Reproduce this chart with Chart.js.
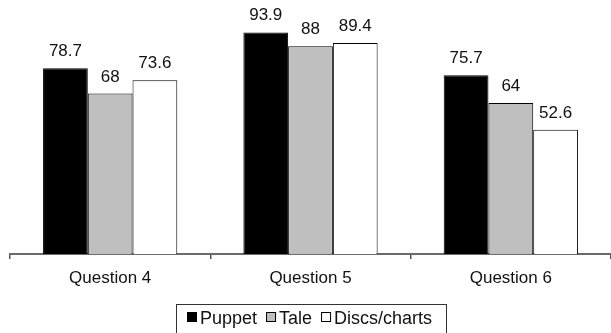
<!DOCTYPE html>
<html>
<head>
<meta charset="utf-8">
<script src="https://cdn.jsdelivr.net/npm/chart.js@4.4.0/dist/chart.umd.min.js"></script>
<style>
  html, body { margin: 0; padding: 0; background: #fff; overflow: hidden; }
  #wrap { position: relative; width: 611px; height: 333px; }
</style>
</head>
<body>
<div id="wrap"><canvas id="c" width="611" height="333"></canvas></div>
<script>
// Percentages per question for each teaching aid
const categories = ['Question 4', 'Question 5', 'Question 6'];
const seriesNames = ['Puppet', 'Tale', 'Discs/charts'];
const puppet = [78.7, 93.9, 75.7];
const tale = [68, 88, 64];
const discsCharts = [73.6, 89.4, 52.6];

const FONT = '"Liberation Sans", Arial, sans-serif';
const fills = ['#000000', '#bfbfbf', '#ffffff'];

// Numbers printed above every bar
const valueLabels = {
  id: 'valueLabels',
  afterDatasetsDraw(chart) {
    const ctx = chart.ctx;
    ctx.save();
    ctx.font = '17px ' + FONT;
    ctx.fillStyle = '#111';
    ctx.textAlign = 'center';
    ctx.textBaseline = 'alphabetic';
    chart.data.datasets.forEach((ds, i) => {
      chart.getDatasetMeta(i).data.forEach((bar, j) => {
        ctx.fillText(String(ds.data[j]), bar.x, bar.y - 12);
      });
    });
    ctx.restore();
  }
};

// Boxed legend along the bottom edge
const boxedLegend = {
  id: 'boxedLegend',
  afterDraw(chart) {
    const ctx = chart.ctx;
    ctx.save();
    ctx.strokeStyle = '#333';
    ctx.lineWidth = 1;
    ctx.strokeRect(176.5, 304.5, 270, 40);
    ctx.font = '18px ' + FONT;
    const sq = 10, textGap = 3, itemGap = 9;
    const items = chart.data.datasets.map(ds => ({
      label: ds.label, fill: ds.backgroundColor, w: ctx.measureText(ds.label).width
    }));
    const total = items.reduce((s, it) => s + sq + textGap + it.w, 0) + itemGap * (items.length - 1);
    let x = Math.round(310 - total / 2);
    ctx.textBaseline = 'alphabetic';
    ctx.textAlign = 'left';
    items.forEach(it => {
      ctx.fillStyle = it.fill;
      ctx.fillRect(x, 312, sq, sq);
      ctx.strokeStyle = '#000';
      ctx.strokeRect(x + 0.5, 312.5, sq - 1, sq - 1);
      ctx.fillStyle = '#111';
      ctx.fillText(it.label, x + sq + textGap, 324);
      x += sq + textGap + it.w + itemGap;
    });
    ctx.restore();
  }
};

const seriesValues = [puppet, tale, discsCharts];

new Chart(document.getElementById('c'), {
  type: 'bar',
  data: {
    labels: categories,
    datasets: seriesNames.map((name, i) => ({
      label: name,
      data: seriesValues[i],
      backgroundColor: fills[i],
      borderColor: '#000',
      borderWidth: 1,
      categoryPercentage: 0.67,
      barPercentage: 1.0
    }))
  },
  options: {
    responsive: false,
    animation: false,
    devicePixelRatio: 1,
    layout: { padding: { top: 18, left: 10, right: 0, bottom: 0 } },
    plugins: {
      legend: { display: false },
      tooltip: { enabled: false }
    },
    scales: {
      x: {
        z: 1,
        afterFit(scale) { scale.height = 79; },
        border: { display: true, color: '#6b6b6b', width: 2 },
        grid: {
          display: true, drawOnChartArea: false, drawTicks: true,
          tickLength: 5, color: '#555', lineWidth: 1.5, offset: true
        },
        ticks: { color: '#111', font: { family: FONT, size: 17 }, padding: 9 }
      },
      y: { display: false, min: 0, max: 100 }
    }
  },
  plugins: [valueLabels, boxedLegend]
});
</script>
</body>
</html>
